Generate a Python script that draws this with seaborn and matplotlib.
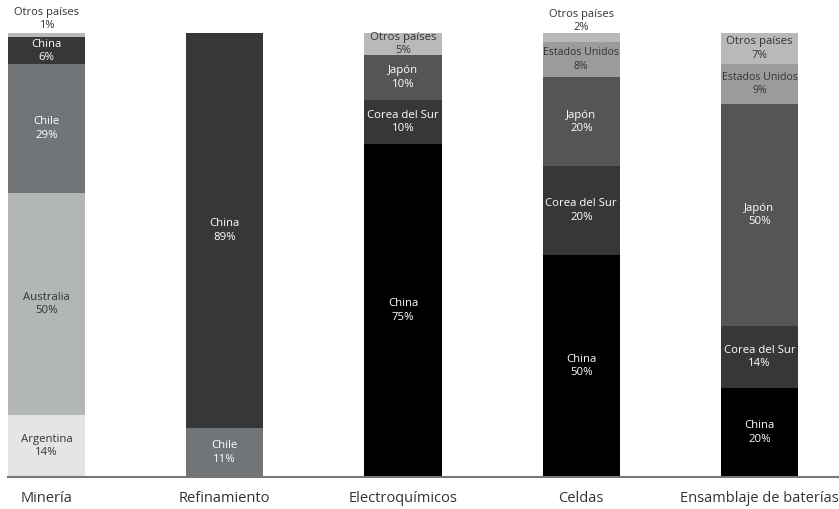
import matplotlib
matplotlib.use("Agg")
import matplotlib.pyplot as plt
import seaborn as sns

# stages and per-stage country shares (%), bottom to top
stages = ["Minería", "Refinamiento", "Electroquímicos", "Celdas", "Ensamblaje de baterías"]
countries = [
    ["Argentina", "Australia", "Chile", "China", "Otros países"],
    ["Chile", "China"],
    ["China", "Corea del Sur", "Japón", "Otros países"],
    ["China", "Corea del Sur", "Japón", "Estados Unidos", "Otros países"],
    ["China", "Corea del Sur", "Japón", "Estados Unidos", "Otros países"],
]
shares = [
    [14, 50, 29, 6, 1],
    [11, 89],
    [75, 10, 10, 5],
    [50, 20, 20, 8, 2],
    [20, 14, 50, 9, 7],
]

colors = {
    "Argentina": "#e5e5e5",
    "Australia": "#b3b6b6",
    "Chile": "#727577",
    "China": "#000000",
    "Corea del Sur": "#353739",
    "Japón": "#545557",
    "Estados Unidos": "#9a9c9c",
    "Otros países": "#b8baba",
}
# upstream stages show China in the dark grey tone
upstream_china = "#353739"
light = {"Argentina", "Australia", "Estados Unidos", "Otros países"}

sns.set_style("white")
plt.rcParams["font.family"] = ["Open Sans", "DejaVu Sans"]

fig = plt.figure(figsize=(8.39, 5.09), dpi=100)
ax = fig.add_axes([8 / 839, 32 / 509, 831 / 839, 444 / 509])

bar_w = 0.432
for i, stage in enumerate(stages):
    tops = []
    total = 0
    for v in shares[i]:
        total += v
        tops.append(total)
    # draw cumulative bars from the top down so lower segments sit in front
    for j in reversed(range(len(shares[i]))):
        c = countries[i][j]
        col = colors[c]
        if c == "China" and i < 2:
            col = upstream_china
        sns.barplot(x=[stage], y=[tops[j]], order=stages, color=col,
                    width=bar_w, linewidth=0, saturation=1, ax=ax)
    for j, v in enumerate(shares[i]):
        c = countries[i][j]
        mid = tops[j] - v / 2
        label = f"{c}\n{v}%"
        if v < 3:
            ax.annotate(label, (i, mid), xytext=(0, 11.8), textcoords="offset points",
                        ha="center", va="center", fontsize=8, color="#333333",
                        linespacing=1.2)
        else:
            tc = "#333333" if c in light else "white"
            size = 7.6 if c == "Estados Unidos" else 8.2
            ax.text(i, mid, label, ha="center", va="center", fontsize=size,
                    color=tc, linespacing=1.3)

ax.set_ylim(0, 100)
ax.set_xlim(-bar_w / 2, (839 - 46.5) / 178.25)
ax.set_xlabel("")
ax.set_ylabel("")
ax.set_yticks([])
for s in ["top", "right", "left"]:
    ax.spines[s].set_visible(False)
ax.spines["bottom"].set_color("#777777")
ax.spines["bottom"].set_linewidth(1.5)
ax.tick_params(axis="x", length=0, pad=10, labelsize=10.5, labelcolor="#333333")

fig.savefig("out.png", dpi=100)
